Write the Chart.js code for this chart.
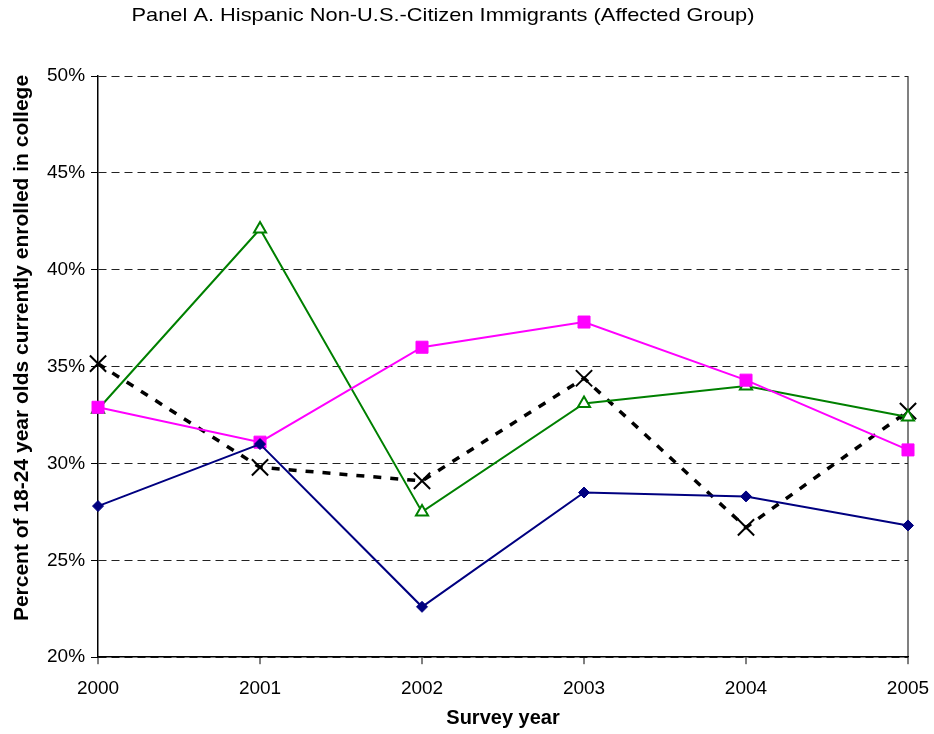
<!DOCTYPE html>
<html lang="en">
<head>
    <meta charset="utf-8">
    <title>Panel A. Hispanic Non-U.S.-Citizen Immigrants</title>
    <script src="https://cdn.jsdelivr.net/npm/chart.js"></script>
    <style>
        html, body { margin: 0; padding: 0; background: #fff; }
        #wrap { width: 934px; height: 734px; }
    </style>
</head>
<body>
    <div id="wrap"><canvas id="grafico" width="934" height="734"></canvas></div>

    <script>
        // dados (percentual)
        let anos = ['2000', '2001', '2002', '2003', '2004', '2005'];
        let serieAzul = [27.8, 31.0, 22.6, 28.5, 28.3, 26.8];
        let serieRosa = [32.9, 31.1, 36.0, 37.3, 34.3, 30.7];
        let serieVerde = [32.8, 42.1, 27.5, 33.1, 34.0, 32.4];
        let seriePreta = [35.15, 29.8, 29.1, 34.4, 26.7, 32.7];
        let ticksY = [20, 25, 30, 35, 40, 45, 50];

        let titulo = 'Panel A. Hispanic Non-U.S.-Citizen Immigrants (Affected Group)';
        let tituloY = 'Percent of 18-24 year olds currently enrolled in college';
        let fonte = '"Liberation Sans", Arial, sans-serif';

        Chart.defaults.font.family = fonte;
        Chart.defaults.color = '#000';

        // titulos desenhados a parte (no original ficam deslocados do centro da area do grafico)
        const titulosPlugin = {
            id: 'titulosPlugin',
            afterDraw(chart) {
                const ctx = chart.ctx;
                ctx.save();
                ctx.font = '19px ' + fonte;
                ctx.fillStyle = '#000';
                ctx.textAlign = 'center';
                ctx.textBaseline = 'alphabetic';
                const largura = ctx.measureText(titulo).width;
                ctx.translate(443, 20.5);
                ctx.scale(623 / largura, 1);
                ctx.fillText(titulo, 0, 0);
                ctx.restore();

                ctx.save();
                ctx.font = 'bold 21px ' + fonte;
                ctx.fillStyle = '#000';
                ctx.textAlign = 'center';
                ctx.textBaseline = 'middle';
                ctx.translate(22, 348);
                ctx.rotate(-Math.PI / 2);
                ctx.fillText(tituloY, 0, 0);
                ctx.restore();
            }
        };

        new Chart(document.getElementById('grafico'), {
            type: 'line',
            data: {
                labels: anos,
                datasets: [
                    {
                        label: 'Serie 1',
                        data: serieAzul,
                        borderColor: '#000080',
                        backgroundColor: '#000080',
                        borderWidth: 2,
                        pointStyle: 'rectRot',
                        pointRadius: 5.5,
                        pointBorderWidth: 1
                    },
                    {
                        label: 'Serie 2',
                        data: serieRosa,
                        borderColor: '#FF00FF',
                        backgroundColor: '#FF00FF',
                        borderWidth: 2,
                        pointStyle: 'rect',
                        pointRadius: 8.5,
                        pointBorderWidth: 1
                    },
                    {
                        label: 'Serie 3',
                        data: serieVerde,
                        borderColor: '#008000',
                        backgroundColor: '#ffffff',
                        borderWidth: 2,
                        pointStyle: 'triangle',
                        pointRadius: 7,
                        pointBorderWidth: 2
                    },
                    {
                        label: 'Serie 4',
                        data: seriePreta,
                        borderColor: '#000',
                        backgroundColor: '#000',
                        borderWidth: 3.5,
                        borderDash: [8, 9],
                        pointStyle: 'crossRot',
                        pointRadius: 11.5,
                        pointBorderWidth: 2
                    }
                ]
            },
            options: {
                responsive: false,
                animation: false,
                layout: { padding: { top: 76, right: 26, left: 41, bottom: 4 } },
                plugins: {
                    legend: { display: false },
                    tooltip: { enabled: false }
                },
                elements: { line: { tension: 0, fill: false } },
                scales: {
                    x: {
                        type: 'category',
                        offset: false,
                        afterFit: (escala) => {
                            escala.paddingLeft = 0;
                            escala.paddingRight = 0;
                        },
                        border: { display: true, color: '#000', width: 1.5 },
                        grid: {
                            drawOnChartArea: true,
                            color: (c) => c.index === anos.length - 1 ? '#808080' : 'rgba(0,0,0,0)',
                            lineWidth: 2,
                            tickColor: '#000',
                            tickLength: 7,
                            tickWidth: 1
                        },
                        ticks: { font: { size: 19 }, padding: 13, maxRotation: 0 },
                        title: {
                            display: true,
                            text: 'Survey year',
                            font: { size: 20, weight: 'bold' },
                            padding: { top: -7, bottom: 0 }
                        }
                    },
                    y: {
                        min: 20,
                        max: 50,
                        afterBuildTicks: (escala) => {
                            escala.ticks = ticksY.map(v => ({ value: v }));
                        },
                        border: { display: true, color: '#000', width: 1.5, dash: [8, 5] },
                        grid: {
                            color: '#222',
                            lineWidth: 1,
                            tickColor: '#000',
                            tickLength: 7,
                            tickBorderDash: []
                        },
                        ticks: {
                            font: { size: 19 },
                            padding: 6,
                            callback: (v) => v + '%'
                        },
                        title: { display: false }
                    }
                }
            },
            plugins: [titulosPlugin]
        });
    </script>
</body>
</html>
